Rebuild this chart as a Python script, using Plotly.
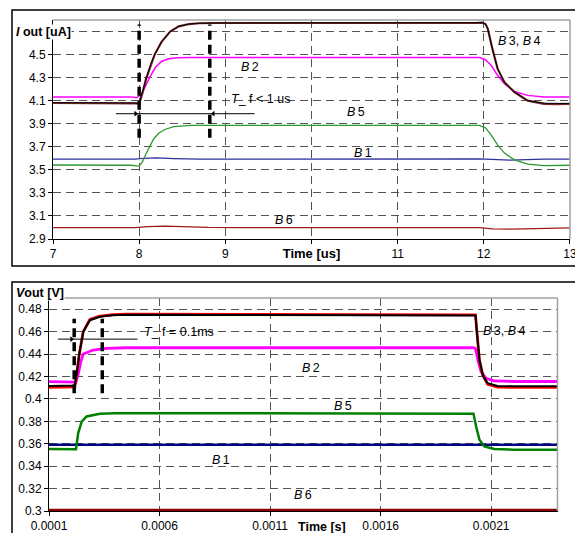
import plotly.graph_objects as go

W, H = 575, 533

# ---------------- top chart data (Iout [uA] vs time [us]) ----------------
top_t_B3 = [7.0, 7.9, 7.97, 8.0, 8.04, 8.08, 8.13, 8.18, 8.26, 8.36, 8.46, 8.58, 8.7, 8.9,
            11.9, 11.98, 12.02, 12.046, 12.10, 12.16, 12.24, 12.355, 12.51, 12.70, 12.85, 13.0]
top_B3 = [4.080, 4.080, 4.077, 4.072, 4.17, 4.29, 4.40, 4.50, 4.61, 4.70, 4.745, 4.765, 4.772, 4.774,
          4.774, 4.777, 4.765, 4.726, 4.55, 4.378, 4.26, 4.175, 4.10, 4.073, 4.070, 4.072]
top_t_B4 = [7.0, 7.9, 7.97, 8.0, 8.04, 8.08, 8.13, 8.18, 8.26, 8.36, 8.46, 8.58, 8.7, 8.9,
            11.9, 11.98, 12.02, 12.046, 12.10, 12.16, 12.24, 12.355, 12.51, 12.70, 13.0]
top_B4 = [4.083, 4.083, 4.080, 4.076, 4.18, 4.30, 4.41, 4.50, 4.61, 4.70, 4.745, 4.765, 4.772, 4.774,
          4.774, 4.777, 4.765, 4.726, 4.55, 4.378, 4.26, 4.175, 4.10, 4.078, 4.075]
top_t_B2 = [7.0, 7.9, 7.97, 8.02, 8.07, 8.12, 8.19, 8.26, 8.34, 8.45, 8.6,
            11.95, 12.02, 12.085, 12.16, 12.24, 12.355, 12.51, 12.7, 13.0]
top_B2 = [4.133, 4.133, 4.125, 4.15, 4.22, 4.30, 4.39, 4.44, 4.463, 4.472, 4.474,
          4.474, 4.455, 4.407, 4.32, 4.248, 4.18, 4.146, 4.133, 4.132]
top_t_B5 = [7.0, 7.9, 8.0, 8.04, 8.08, 8.12, 8.17, 8.23, 8.30, 8.40, 8.6,
            11.95, 12.02, 12.085, 12.16, 12.24, 12.355, 12.51, 12.7, 13.0]
top_B5 = [3.542, 3.540, 3.533, 3.57, 3.64, 3.70, 3.77, 3.82, 3.85, 3.875, 3.885,
          3.885, 3.865, 3.804, 3.717, 3.645, 3.587, 3.55, 3.537, 3.540]
top_t_B1 = [7.0, 7.95, 8.05, 8.2, 8.4, 8.7, 11.95, 12.1, 12.3, 12.5, 12.7, 13.0]
top_B1 = [3.593, 3.593, 3.600, 3.603, 3.598, 3.593, 3.595, 3.588, 3.585, 3.588, 3.593, 3.593]
top_t_B6 = [7.0, 7.95, 8.1, 8.3, 8.5, 8.8, 9.2, 11.95, 12.1, 12.3, 12.6, 13.0]
top_B6 = [2.998, 2.998, 3.008, 3.012, 3.008, 3.000, 2.998, 2.998, 2.988, 2.985, 2.990, 2.997]

top_xticks = [7, 8, 9, 10, 11, 12, 13]
top_xticktext = ["7", "8", "9", "<b style='font-size:13px'>Time [us]</b>", "11", "12", "13"]
top_yticks = [2.9, 3.1, 3.3, 3.5, 3.7, 3.9, 4.1, 4.3, 4.5, 4.7]
top_yticktext = ["2.9", "3.1", "3.3", "3.5", "3.7", "3.9", "4.1", "4.3", "4.5", ""]

# fall-time marker lines (top)
top_mark_t = [8.0, 8.82]
top_mark_y = [3.778, 4.76]
top_arrow_t = [7.73, 9.34]
top_arrow_y = 3.987

# ---------------- bottom chart data (Vout [V] vs time [s]) ----------------
bot_t_B3 = [0.0001, 0.00021, 0.000217, 0.000227, 0.000237, 0.000255, 0.000285, 0.00033, 0.00039, 0.00045,
            0.00202, 0.002029, 0.002036, 0.002047, 0.002062, 0.002084, 0.002129, 0.0022, 0.0024]
bot_B3 = [0.4102, 0.4102, 0.4108, 0.425, 0.440, 0.460, 0.4708, 0.4738, 0.4752, 0.4755,
          0.4753, 0.4750, 0.4584, 0.4347, 0.4210, 0.4130, 0.4105, 0.4102, 0.4102]
bot_t_B4 = bot_t_B3
bot_B4 = [0.4116, 0.4116, 0.412, 0.425, 0.440, 0.460, 0.4702, 0.4732, 0.4747, 0.4750,
          0.4748, 0.4745, 0.4584, 0.4347, 0.4213, 0.4140, 0.4116, 0.4113, 0.4113]
bot_t_B2 = [0.0001, 0.000215, 0.000222, 0.000232, 0.000245, 0.000255, 0.0003, 0.00036, 0.00045,
            0.00202, 0.002029, 0.00204, 0.002054, 0.002077, 0.002115, 0.0022, 0.0024]
bot_B2 = [0.4154, 0.4154, 0.4150, 0.422, 0.434, 0.440, 0.4436, 0.4450, 0.4456,
          0.4456, 0.4450, 0.4347, 0.4243, 0.4184, 0.4160, 0.4155, 0.4155]
bot_t_B5 = [0.0001, 0.000215, 0.000222, 0.000232, 0.000248, 0.00027, 0.00033, 0.0004,
            0.00201, 0.00202, 0.002032, 0.002047, 0.002069, 0.002114, 0.0022, 0.0024]
bot_B5 = [0.3552, 0.3547, 0.3550, 0.3695, 0.3798, 0.3843, 0.3867, 0.3873,
          0.3873, 0.3868, 0.3754, 0.3636, 0.3576, 0.3553, 0.3547, 0.3547]
bot_t_B1 = [0.0001, 0.0024]
bot_B1 = [0.3591, 0.3591]
bot_t_B6 = [0.0001, 0.0024]
bot_B6 = [0.3009, 0.3009]

bot_xticks = [0.0001, 0.0006, 0.0011, 0.0016, 0.0021]
bot_xticktext = ["0.0001", "0.0006", "0.0011", "0.0016", "0.0021"]
bot_yticks = [0.30, 0.32, 0.34, 0.36, 0.38, 0.40, 0.42, 0.44, 0.46, 0.48]
bot_yticktext = ["0.3", "0.32", "0.34", "0.36", "0.38", "0.4", "0.42", "0.44", "0.46", "0.48"]

bot_mark_t = [0.000214, 0.000341]
bot_mark_y = [0.405, 0.4715]
bot_arrow_t = [0.00014, 0.0005]
bot_arrow_y = 0.4533

FONT = "Liberation Sans, Arial, sans-serif"
SP = "&#8201;"

fig = go.Figure()

def line(x, y, color, width, xa="x", ya="y", dash="solid"):
    fig.add_trace(go.Scatter(x=x, y=y, mode="lines", xaxis=xa, yaxis=ya,
                             line=dict(color=color, width=width, dash=dash),
                             hoverinfo="skip", showlegend=False))

# top traces
line(top_t_B6, top_B6, "#a01818", 1.3)
line(top_t_B1, top_B1, "#3030a0", 1.3)
line(top_t_B5, top_B5, "#2e9a2e", 1.3)
line(top_t_B2, top_B2, "#ff00ff", 1.5)
line(top_t_B3, top_B3, "#7a2a2a", 2.2)
line(top_t_B4, top_B4, "#000000", 1.0)

# top markers
for t in top_mark_t:
    line([t, t], top_mark_y, "#000000", 3.5, dash="9px,5px")
line(top_arrow_t, [top_arrow_y, top_arrow_y], "#000000", 1.0)
fig.add_trace(go.Scatter(x=[top_mark_t[0] - 0.04, top_mark_t[1] + 0.04], y=[top_arrow_y, top_arrow_y],
                         mode="markers", xaxis="x", yaxis="y", hoverinfo="skip", showlegend=False,
                         marker=dict(symbol=["triangle-right", "triangle-left"], size=5, color="#000")))

# bottom traces
line(bot_t_B6, bot_B6, "#900000", 2.5, "x2", "y2")
line(bot_t_B1, bot_B1, "#000080", 2.5, "x2", "y2")
line(bot_t_B5, bot_B5, "#008000", 2.5, "x2", "y2")
line(bot_t_B2, bot_B2, "#ff00ff", 2.8, "x2", "y2")
line(bot_t_B3, bot_B3, "#ff0000", 2.8, "x2", "y2")
line(bot_t_B4, bot_B4, "#000000", 2.0, "x2", "y2")

for t in bot_mark_t:
    line([t, t], bot_mark_y, "#000000", 3.5, "x2", "y2", dash="9px,5px")
line(bot_arrow_t, [bot_arrow_y, bot_arrow_y], "#000000", 1.0, "x2", "y2")
fig.add_trace(go.Scatter(x=[bot_mark_t[0] - 0.000012], y=[bot_arrow_y],
                         mode="markers", xaxis="x2", yaxis="y2", hoverinfo="skip", showlegend=False,
                         marker=dict(symbol="triangle-right", size=5, color="#000")))

grid = dict(showgrid=True, gridcolor="#555555", gridwidth=1, griddash="8px,5px",
            showline=True, linecolor="black", linewidth=1, ticks="outside", ticklen=4,
            tickcolor="black", zeroline=False, automargin=False, ticklabeloverflow="allow",
            tickfont=dict(family=FONT, size=12, color="black"), fixedrange=True)

fig.update_layout(
    width=W, height=H, margin=dict(l=0, r=0, t=0, b=0),
    paper_bgcolor="white", plot_bgcolor="white", showlegend=False,
    font=dict(family=FONT, size=12, color="black"),
    xaxis=dict(domain=[53 / W, 570 / W], range=[7, 13.001], tickmode="array",
               tickvals=top_xticks, ticktext=top_xticktext, anchor="y", **grid),
    yaxis=dict(domain=[1 - 239 / H, 1 - 20 / H], range=[2.9, 4.8], tickmode="array",
               tickvals=top_yticks, ticktext=top_yticktext, anchor="x", **grid),
    xaxis2=dict(domain=[49 / W, 557.5 / W], range=[0.0001, 0.0024], tickmode="array",
                tickvals=bot_xticks, ticktext=bot_xticktext, anchor="y2", **grid),
    yaxis2=dict(domain=[1 - 511 / H, 1 - 298 / H], range=[0.3, 0.49], tickmode="array",
                tickvals=bot_yticks, ticktext=bot_yticktext, anchor="x2", **grid),
)

shapes = []
# outer chart frames
shapes.append(dict(type="rect", xref="paper", yref="paper", x0=12 / W, x1=1.02,
                   y0=1 - 266 / H, y1=1 - 10 / H, line=dict(color="black", width=1.5), layer="below"))
shapes.append(dict(type="rect", xref="paper", yref="paper", x0=12 / W, x1=1.02,
                   y0=-0.05, y1=1 - 282 / H, line=dict(color="black", width=1.5), layer="below"))
# gray top/right plot borders
for xa, ya in (("x", "y"), ("x2", "y2")):
    shapes.append(dict(type="line", xref=xa + " domain", yref=ya + " domain", x0=0, x1=1, y0=1, y1=1,
                       line=dict(color="#a0a0a0", width=1.5)))
    shapes.append(dict(type="line", xref=xa + " domain", yref=ya + " domain", x0=1, x1=1, y0=0, y1=1,
                       line=dict(color="#a0a0a0", width=1.5)))
fig.update_layout(shapes=shapes)

ann = []
def label(text, x, y, xa="x", ya="y", xanchor="center", bg=None, size=12.5):
    d = dict(text=text, x=x, y=y, xref=xa, yref=ya, showarrow=False, xanchor=xanchor, yanchor="middle",
             font=dict(family=FONT, size=size, color="black"), borderpad=0)
    if bg:
        d["bgcolor"] = bg
    ann.append(d)

label("<b><i>I</i> out [uA]</b>", 15 / W, 1 - 32 / H, "paper", "paper", "left", "white")
label(f"<i>B</i>{SP}2", 9.285, 4.396)
label(f"<i>B</i>{SP}3, <i>B</i>{SP}4", 12.42, 4.62)
label(f"<i>B</i>{SP}5", 10.515, 4.004)
label(f"<i>B</i>{SP}1", 10.60, 3.648)
label(f"<i>B</i>{SP}6", 9.68, 3.065)
label("<i>T</i>_ f &lt; 1 us", 9.053, 4.117, xanchor="left")

label("<b><i>V</i>out [V]</b>", 15 / W, 1 - 293 / H, "paper", "paper", "left", "white")
label(f"<i>B</i>{SP}3, <i>B</i>{SP}4", 0.00216, 0.4604, "x2", "y2")
label(f"<i>B</i>{SP}2", 0.001283, 0.4276, "x2", "y2")
label(f"<i>B</i>{SP}5", 0.001428, 0.3938, "x2", "y2")
label(f"<i>B</i>{SP}1", 0.000877, 0.3458, "x2", "y2")
label(f"<i>B</i>{SP}6", 0.001247, 0.3147, "x2", "y2")
label("<i>T</i>_ f = 0.1ms", 0.000525, 0.4596, "x2", "y2", "left")
label("<b>Time [s]</b>", 0.001333, 1 - 527 / H, "x2", "paper", size=12.5)
fig.update_layout(annotations=ann)

fig.write_html("out.html", config={"displayModeBar": False},
               post_script="document.body.style.margin='0px';document.body.style.overflow='hidden';")
